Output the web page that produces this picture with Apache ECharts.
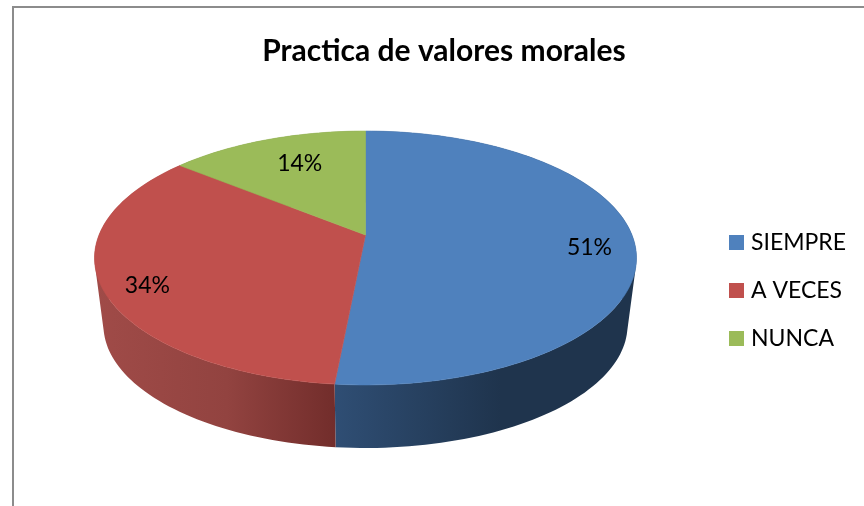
<!DOCTYPE html>
<html>
<head>
<meta charset="utf-8">
<title>Practica de valores morales</title>
<script src="https://cdn.jsdelivr.net/npm/echarts@6/dist/echarts.min.js"></script>
<style>
    html, body { margin: 0; padding: 0; background: #fff; }
    #pieChart { width: 864px; height: 506px; }
</style>
</head>
<body>
<div id="pieChart"></div>
<script>
const chartTitle = "Practica de valores morales";
const categories = ["SIEMPRE", "A VECES", "NUNCA"];
const percents = [51, 34, 14];

const topColors = ["#4f81bd", "#c0504d", "#9bbb59"];
const wallColors = [
    ["#2f4e74", "#1f344d", "#1f344d"],
    ["#a04b48", "#924340", "#722d2b"],
    ["#6d8540", "#6d8540", "#6d8540"],
];
const labelFont = "23px Lato, sans-serif";
const labelPlacement = [
    { r: 0.85, dx: -4, dy: 8 },
    { r: 0.85, dx: 4, dy: 8 },
    { r: 0.72, dx: 8, dy: 0 },
];

// tilted disc: the slices meet above the centre of the ellipse, as in a perspective view
const pie = { cx: 365.5, cy: 235, a: 266.5, b: 122.8, k: 0.181 };
const wall = { scale: 0.967, shift: 68 };

const total = percents.reduce((s, v) => s + v, 0);

function project(share, r) {
    const t = share * Math.PI * 2;
    const X = Math.sin(t) * r;
    const Y = Math.cos(t) * r;
    const w = 1 + pie.k * Y;
    return [pie.a * X / w, -pie.b * Y / w];
}

function rimPoints(from, to, scale, shift) {
    const pts = [];
    const steps = Math.max(8, Math.ceil((to - from) * 240));
    for (let i = 0; i <= steps; i++) {
        const p = project(from + (to - from) * i / steps, 1);
        pts.push([pie.cx + p[0] * scale, pie.cy + p[1] * scale + shift]);
    }
    return pts;
}

// one quad per rim step, all wound the same way so the fill has no hole where the rims cross
function wallPath(rim, lower) {
    let d = "";
    for (let i = 0; i < rim.length - 1; i++) {
        let quad = [rim[i], rim[i + 1], lower[i + 1], lower[i]];
        let area = 0;
        quad.forEach((p, j) => {
            const q = quad[(j + 1) % 4];
            area += p[0] * q[1] - q[0] * p[1];
        });
        if (area < 0) {
            quad = quad.reverse();
        }
        d += "M" + quad.map((p) => p[0].toFixed(2) + " " + p[1].toFixed(2)).join("L") + "Z";
    }
    return d;
}

function renderSlice(index, value) {
    const before = percents.slice(0, index).reduce((s, v) => s + v, 0);
    const from = before / total;
    const to = (before + value) / total;
    const rim = rimPoints(from, to, 1, 0);
    const lower = rimPoints(from, to, wall.scale, wall.shift);
    const place = labelPlacement[index];
    const mid = project((from + to) / 2, place.r);
    return {
        type: "group",
        children: [
            {
                type: "path",
                z2: 1,
                shape: { pathData: wallPath(rim, lower) },
                style: {
                    fill: new echarts.graphic.LinearGradient(0, 0, 1, 0, [
                        { offset: 0, color: wallColors[index][0] },
                        { offset: 0.55, color: wallColors[index][1] },
                        { offset: 1, color: wallColors[index][2] },
                    ]),
                },
            },
            {
                type: "polygon",
                z2: 2,
                shape: { points: [[pie.cx, pie.cy]].concat(rim) },
                style: { fill: topColors[index], stroke: topColors[index], lineWidth: 0.6 },
            },
            {
                type: "text",
                z2: 3,
                style: {
                    text: value + "%",
                    x: pie.cx + mid[0] + place.dx,
                    y: pie.cy + mid[1] + place.dy,
                    fill: "#000",
                    font: labelFont,
                    align: "center",
                    verticalAlign: "middle",
                },
            },
        ],
    };
}

const option = {
    animation: false,
    backgroundColor: "#fff",
    title: {
        text: chartTitle,
        left: 439,
        top: 31,
        textAlign: "center",
        textStyle: {
            color: "#000",
            fontFamily: "Lato",
            fontWeight: "bold",
            fontSize: 30,
        },
    },
    legend: {
        orient: "vertical",
        left: 724,
        top: 226,
        itemWidth: 15,
        itemHeight: 15,
        itemGap: 25,
        icon: "rect",
        data: categories,
        textStyle: {
            color: "#000",
            fontFamily: "Lato",
            fontSize: 23,
            padding: [0, 0, 0, 2],
        },
    },
    graphic: [
        {
            type: "polyline",
            shape: { points: [[13, 506], [13, 7], [864, 7]] },
            style: { stroke: "#8c8c8c", lineWidth: 2, fill: "none" },
        },
    ],
    series: categories.map((name, i) => ({
        name: name,
        type: "custom",
        coordinateSystem: "none",
        itemStyle: { color: topColors[i] },
        data: [[percents[i]]],
        renderItem: (params, api) => renderSlice(i, api.value(0)),
    })),
};

const chart = echarts.init(document.getElementById("pieChart"));
chart.setOption(option);
</script>
</body>
</html>
